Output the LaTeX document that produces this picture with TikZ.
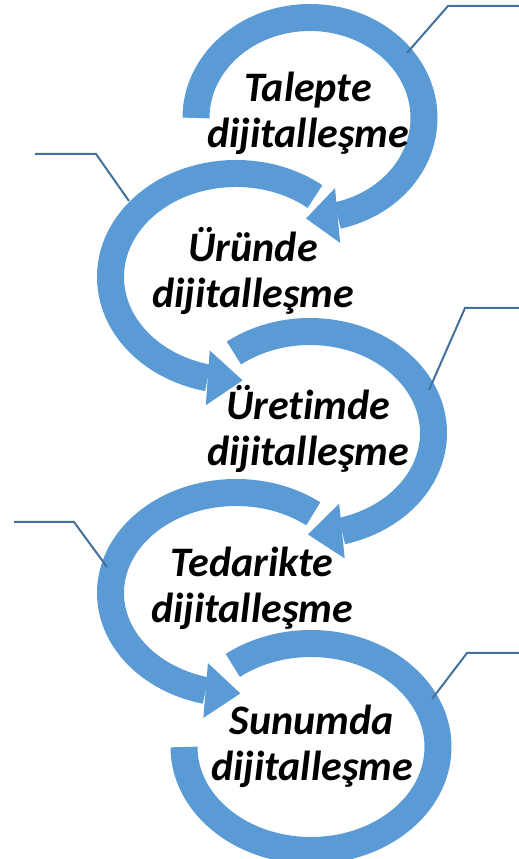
\documentclass[tikz,border=0pt]{standalone}
\usepackage{fontspec}
\setmainfont{Carlito}[Ligatures=NoCommon]
\usepackage{tikz}
\usetikzlibrary{calc}
\usetikzlibrary{math}
\definecolor{ringblue}{RGB}{91,155,213}
\definecolor{leadblue}{RGB}{65,113,156}
\tikzset{ring/.style={line width=27pt, draw=ringblue}}
\tikzset{lead/.style={line width=2pt, draw=leadblue}}
\tikzset{word/.style={font=\fontsize{42}{46}\selectfont\bfseries\itshape, inner sep=0pt, anchor=base}}
\def\ringhead(#1)[#2,#3]#4#5% Syntax: (centre)[x radius,y radius]{base angle}{tip angle}
{ \coordinate (hb) at ($(#1)+(#4:#2pt and #3pt)$);
  \coordinate (ht) at ($(#1)+(#5:#2pt and #3pt)$);
  \fill[ringblue] ($(hb)!27.5pt!90:(ht)$) -- (ht) -- ($(hb)!27.5pt!-90:(ht)$) -- cycle; }

\begin{document}
\begin{tikzpicture}[x=1pt, y=1pt] % chain of rings, coordinates in px
	\useasboundingbox (0,0) rectangle (519,859);
	\coordinate (c1) at (310,741);
	\coordinate (c2) at (236,582);
	\coordinate (c3) at (310,426);
	\coordinate (c4) at (236,266);
	\coordinate (c5) at (311,112);
	\foreach \c/\rx/\ry/\s/\b/\t in {c1/114/100.5/180/-76/-92, c2/125.5/103.5/51/257/273, c3/123.5/101.5/128/-75/-91, c4/125.5/100.5/52/256/272}
	{
		\draw[ring] (\c) ++(\s:\rx pt and \ry pt) arc[start angle=\s, end angle=\b, x radius=\rx pt, y radius=\ry pt];
		\ringhead(\c)[\rx,\ry]{\b}{\t}
	}
	\draw[ring] (c5) ++(128:127pt and 103.5pt) arc[start angle=128, end angle=-180, x radius=127pt, y radius=103.5pt];
	% leader lines
	\foreach \i/\a/\b/\x/\y/\e in {1/407/806/448/853/519, 2/129/658/96/705/35, 3/429/469/465/551/519, 4/107/292/74/337/14, 5/432/160/467/206/519}
	{
		\coordinate (s\i) at (\a,\b);
		\coordinate (k\i) at (\x,\y);
		\coordinate (e\i) at (\e,\y);
		\draw[lead] (s\i) -- (k\i) -- (e\i);
	}
	% labels
	\foreach \i/\x/\y/\w in {1/308/757/Talepte, 2/253/597/Üründe, 3/308/439/Üretimde, 4/252/282/Tedarikte, 5/312/124/Sunumda}
	{
		\node[word] (w\i) at (\x,\y) {\w};
		\node[word] (d\i) at (\x,\y-46) {dijitalleşme};
	}
\end{tikzpicture}
\end{document}
